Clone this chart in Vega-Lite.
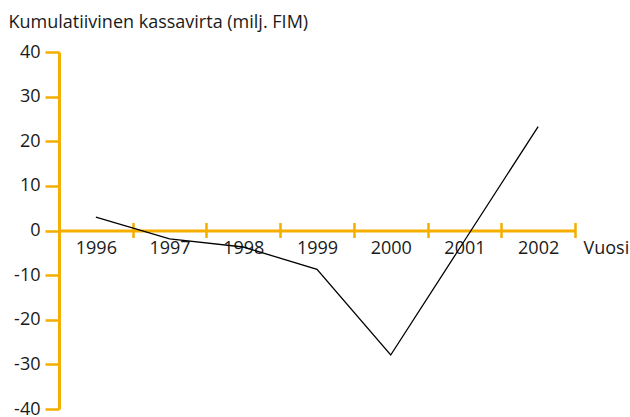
{
  "$schema": "https://vega.github.io/schema/vega-lite/v6.json",
  "autosize": "none",
  "width": 516,
  "height": 357,
  "padding": {"left": 59, "top": 52, "right": 55, "bottom": 8},
  "background": "white",
  "config": {
    "view": {"stroke": null},
    "font": "Open Sans",
    "axis": {"labelFont": "Open Sans", "titleFont": "Open Sans", "labelColor": "#1a1a1a", "titleColor": "#1a1a1a", "titleFontWeight": "normal", "grid": false}
  },
  "data": {
    "values": [
      {"vuosi": "1996", "arvo": 3.0},
      {"vuosi": "1997", "arvo": -1.9},
      {"vuosi": "1998", "arvo": -3.7},
      {"vuosi": "1999", "arvo": -8.7},
      {"vuosi": "2000", "arvo": -27.9},
      {"vuosi": "2001", "arvo": -2.3},
      {"vuosi": "2002", "arvo": 23.3}
    ]
  },
  "resolve": {"axis": {"x": "independent"}},
  "layer": [
    {
      "mark": {"type": "line", "color": "black", "strokeWidth": 1.3},
      "encoding": {
        "x": {
          "field": "vuosi", "type": "ordinal",
          "scale": {"type": "band", "paddingInner": 0, "paddingOuter": 0},
          "axis": {
            "orient": "bottom", "offset": -178.5, "tickBand": "extent",
            "domainColor": "#F5AD00", "domainWidth": 3, "domainCap": "butt",
            "tickColor": "#F5AD00", "tickWidth": 2.5, "tickSize": 7,
            "labelAngle": 0, "labelFontSize": 18, "labelPadding": 2,
            "title": "Vuosi", "titleFontSize": 18, "titleAnchor": "end",
            "titleAlign": "left", "titleBaseline": "top", "titleX": 524, "titleY": 9
          }
        },
        "y": {
          "field": "arvo", "type": "quantitative",
          "scale": {"domain": [-40, 40], "nice": false, "zero": false},
          "axis": {
            "values": [-40, -30, -20, -10, 0, 10, 20, 30, 40],
            "labelExpr": "datum.value + ''",
            "domainColor": "#F5AD00", "domainWidth": 3,
            "tickColor": "#F5AD00", "tickWidth": 2.5, "tickSize": 14,
            "labelFontSize": 18, "labelPadding": 5,
            "title": "Kumulatiivinen kassavirta (milj. FIM)", "titleFontSize": 18,
            "titleAngle": 0, "titleAlign": "left", "titleBaseline": "alphabetic",
            "titleX": -51, "titleY": -25
          }
        }
      }
    },
    {
      "mark": {"type": "line", "opacity": 0},
      "encoding": {
        "x": {
          "field": "vuosi", "type": "ordinal",
          "scale": {"type": "band", "paddingInner": 0, "paddingOuter": 0},
          "axis": {
            "orient": "top", "offset": -178.5, "tickBand": "extent",
            "domain": false,
            "tickColor": "#F5AD00", "tickWidth": 2.5, "tickSize": 8,
            "labels": false, "title": null
          }
        },
        "y": {"field": "arvo", "type": "quantitative"}
      }
    }
  ]
}
